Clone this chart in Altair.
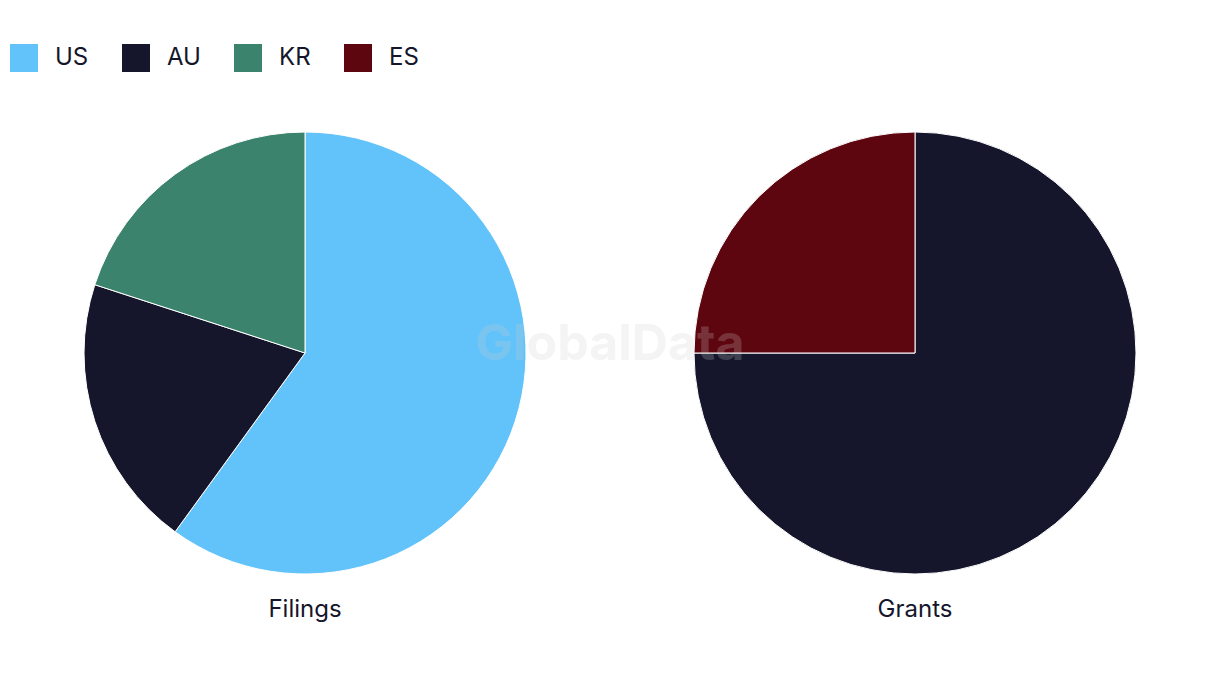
import altair as alt
import pandas as pd

series_names = ["Filings", "Filings", "Filings", "Grants", "Grants"]
countries = ["US", "AU", "KR", "AU", "ES"]
shares = [60, 20, 20, 75, 25]
slice_order = [0, 1, 2, 0, 1]

legend_domain = ["US", "AU", "KR", "ES"]
legend_colors = ["#62C2FA", "#15162B", "#3B836C", "#5E0610"]

df = pd.DataFrame({"series": series_names, "country": countries,
                   "share": shares, "ord": slice_order})

FONT = "Inter"
TXT = "#15162B"

color = alt.Color("country:N",
                  scale=alt.Scale(domain=legend_domain, range=legend_colors),
                  legend=alt.Legend(title=None, orient="none", direction="horizontal",
                                    legendX=2, legendY=36, symbolType="square",
                                    symbolSize=784, symbolStrokeWidth=0,
                                    labelFontSize=24, labelFont=FONT, labelColor=TXT,
                                    labelOffset=17, columnPadding=33, symbolOpacity=1))

def pie(name, cx):
    return alt.Chart(df).transform_filter(alt.datum.series == name).mark_arc(
        radius=221, stroke="white", strokeWidth=1
    ).encode(
        theta=alt.Theta("share:Q", stack=True),
        color=color,
        order=alt.Order("ord:Q"),
        x=alt.value(cx), y=alt.value(345),
        tooltip=["country", "share"],
    )

label_df = pd.DataFrame({"name": ["Filings", "Grants"], "px": [297, 907]})
labels = alt.Chart(label_df).mark_text(fontSize=24, font=FONT, color=TXT,
                                       baseline="middle", align="center").encode(
    text="name:N", x=alt.X("px:Q", scale=None), y=alt.value(602))

wm_df = pd.DataFrame({"t": ["GlobalData"]})
watermark = alt.Chart(wm_df).mark_text(fontSize=50, font=FONT, fontWeight="bold",
                                       color="#d0d0d0", opacity=0.22,
                                       align="center", baseline="middle").encode(
    text="t:N", x=alt.value(602), y=alt.value(337))

chart = alt.layer(pie("Filings", 297), pie("Grants", 907), labels, watermark).resolve_scale(
    theta="independent"
).properties(
    width=1204, height=670, padding=0, autosize=alt.AutoSizeParams(type="none")
).configure_view(stroke=None)

chart.save("out.html", embed_options={"renderer": "svg", "actions": False})
